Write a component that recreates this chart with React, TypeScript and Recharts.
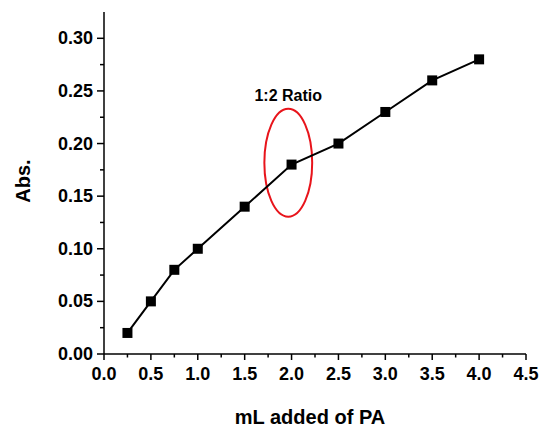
import React from 'react';
import {
  LineChart,
  Line,
  XAxis,
  YAxis,
  ReferenceArea,
} from 'recharts';

// mL of PA added vs. absorbance
const volumes = [0.25, 0.5, 0.75, 1.0, 1.5, 2.0, 2.5, 3.0, 3.5, 4.0];
const absorbance = [0.02, 0.05, 0.08, 0.1, 0.14, 0.18, 0.2, 0.23, 0.26, 0.28];

// major + minor ticks
const xTicks = [0, 0.25, 0.5, 0.75, 1, 1.25, 1.5, 1.75, 2, 2.25, 2.5, 2.75, 3, 3.25, 3.5, 3.75, 4, 4.25, 4.5];
const yTicks = [0, 0.025, 0.05, 0.075, 0.1, 0.125, 0.15, 0.175, 0.2, 0.225, 0.25, 0.275, 0.3];

// highlighted region around the 1:2 point
const ratioX = [1.71, 2.22];
const ratioY = [0.1305, 0.233];
const ratioLabel = '1:2 Ratio';

const data = volumes.map((v, i) => ({ x: v, y: absorbance[i] }));

const FONT = '"Liberation Sans", Arial, sans-serif';

const isMajorX = (v: number) => Math.round(v * 100) % 50 === 0;
const isMajorY = (v: number) => Math.round(v * 1000) % 50 === 0;

const XTick = (props: any) => {
  const { x, y, payload } = props;
  const v = payload.value as number;
  const major = isMajorX(v);
  return (
    <g>
      <line x1={x} x2={x} y1={y} y2={y + (major ? 6 : 3.5)} stroke="#000" strokeWidth={1.5} />
      {major && (
        <text x={x} y={y + 26} textAnchor="middle" fontFamily={FONT} fontWeight="bold" fontSize={18} fill="#000">
          {v.toFixed(1)}
        </text>
      )}
    </g>
  );
};

const YTick = (props: any) => {
  const { x, y, payload } = props;
  const v = payload.value as number;
  const major = isMajorY(v);
  return (
    <g>
      <line x1={x} x2={x - (major ? 7 : 4)} y1={y} y2={y} stroke="#000" strokeWidth={1.5} />
      {major && (
        <text x={x - 11} y={y} textAnchor="end" dominantBaseline="central" fontFamily={FONT} fontWeight="bold" fontSize={18} fill="#000">
          {v.toFixed(2)}
        </text>
      )}
    </g>
  );
};

const SquareDot = (props: any) => {
  const { cx, cy } = props;
  if (cx == null || cy == null) return null;
  return <rect x={cx - 5} y={cy - 5} width={10} height={10} fill="#000" />;
};

const EllipseShape = (props: any) => {
  const { x, y, width, height } = props;
  return (
    <g>
      <ellipse
        cx={x + width / 2}
        cy={y + height / 2}
        rx={width / 2}
        ry={height / 2}
        fill="none"
        stroke="#e8141b"
        strokeWidth={2}
      />
      <text
        x={x + width / 2}
        y={y - 8}
        textAnchor="middle"
        fontFamily={FONT}
        fontWeight="bold"
        fontSize={16}
        fill="#000"
      >
        {ratioLabel}
      </text>
    </g>
  );
};

export default function App() {
  return (
    <div style={{ position: 'absolute', left: 0, top: 0, background: '#fff' }}>
      <LineChart
        width={540}
        height={427}
        data={data}
        margin={{ top: 12, right: 14, left: 0, bottom: 0 }}
      >
        <XAxis
          dataKey="x"
          type="number"
          domain={[0, 4.5]}
          ticks={xTicks}
          interval={0}
          height={73}
          tickSize={0}
          tickMargin={0}
          tickLine={false}
          axisLine={{ stroke: '#000', strokeWidth: 1.5 }}
          tick={<XTick />}
          label={{
            content: (p: any) => {
              const vb = p.viewBox;
              return (
                <text
                  x={vb.x + vb.width / 2 - 5}
                  y={vb.y + 70}
                  textAnchor="middle"
                  fontFamily={FONT}
                  fontWeight="bold"
                  fontSize={20}
                  fill="#000"
                >
                  mL added of PA
                </text>
              );
            },
          }}
        />
        <YAxis
          type="number"
          domain={[0, 0.325]}
          ticks={yTicks}
          interval={0}
          width={104}
          tickSize={0}
          tickMargin={0}
          tickLine={false}
          axisLine={{ stroke: '#000', strokeWidth: 1.5 }}
          tick={<YTick />}
          label={{
            content: (p: any) => {
              const vb = p.viewBox;
              const cx = vb.x + 23;
              const cy = vb.y + vb.height / 2 - 2;
              return (
                <text
                  x={cx}
                  y={cy}
                  transform={`rotate(-90 ${cx} ${cy})`}
                  textAnchor="middle"
                  dominantBaseline="central"
                  fontFamily={FONT}
                  fontWeight="bold"
                  fontSize={20}
                  fill="#000"
                >
                  Abs.
                </text>
              );
            },
          }}
        />
        <ReferenceArea
          x1={ratioX[0]}
          x2={ratioX[1]}
          y1={ratioY[0]}
          y2={ratioY[1]}
          shape={<EllipseShape />}
        />
        <Line
          type="linear"
          dataKey="y"
          stroke="#000"
          strokeWidth={2}
          dot={<SquareDot />}
          activeDot={false}
          isAnimationActive={false}
        />
      </LineChart>
    </div>
  );
}
